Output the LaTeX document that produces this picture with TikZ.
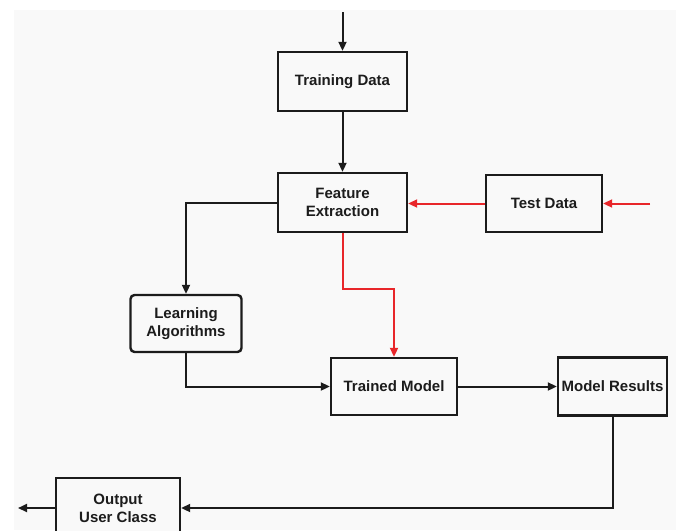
\documentclass[tikz,border=0pt]{standalone}
\usepackage{fontspec}
\setmainfont{Liberation Sans}
\usetikzlibrary{arrows.meta}
\definecolor{bg}{HTML}{F9F9F9}
\definecolor{ink}{HTML}{1C1C1C}
\definecolor{redline}{HTML}{E8262A}
\begin{document}
\begin{tikzpicture}[x=1pt,y=-1pt,
  box/.style={draw=ink, line width=2.4pt, rectangle, fill=bg, inner sep=0pt, align=center,
    font=\fontsize{15}{18}\selectfont\bfseries, text=ink},
  arr/.style={draw=ink, line width=2pt, -{Triangle[length=9pt,width=8pt]}},
  rarr/.style={draw=redline, line width=2pt, -{Triangle[length=9pt,width=8pt]}}]
\clip (0,0) rectangle (676,530);
\fill[white] (0,0) rectangle (676,530);
\fill[bg] (14,10) rectangle (676,530);
\node[box, minimum width=129, minimum height=59] (td) at (342.5,81.5) {Training Data};
\node[box, minimum width=129, minimum height=59] (fe) at (342.5,202.5) {Feature\\Extraction};
\node[box, minimum width=116, minimum height=57] (test) at (544,203.5) {Test Data};
\node[box, minimum width=111, minimum height=57, rounded corners=4pt] (la) at (186,323.5) {Learning\\Algorithms};
\node[box, minimum width=126, minimum height=57] (tm) at (394,386.5) {Trained Model};
\node[box, minimum width=109, minimum height=58] (mr) at (612.5,386.5) {Model Results};
\node[box, minimum width=124, minimum height=60] (out) at (118,508) {Output\\User Class};
\coordinate (start) at (342.5,12);
\coordinate (tin) at (650,203.5);
\coordinate (fin) at (18,508);
\draw[arr] (start) -- (td.north);
\draw[arr] (td.south) -- (fe.north);
\draw[rarr] (tin) -- (test.east);
\draw[rarr] (test.west) -- (test.west -| fe.east);
\draw[arr] (fe.west) -| (la.north);
\draw[rarr] (fe.south) -- ++(0,56) -| (tm.north);
\draw[arr] (la.south) |- (tm.west);
\draw[arr] (tm.east) -- (mr.west);
\draw[arr] (mr.south) |- (out.east);
\draw[arr] (out.west) -- (fin);
\end{tikzpicture}
\end{document}
